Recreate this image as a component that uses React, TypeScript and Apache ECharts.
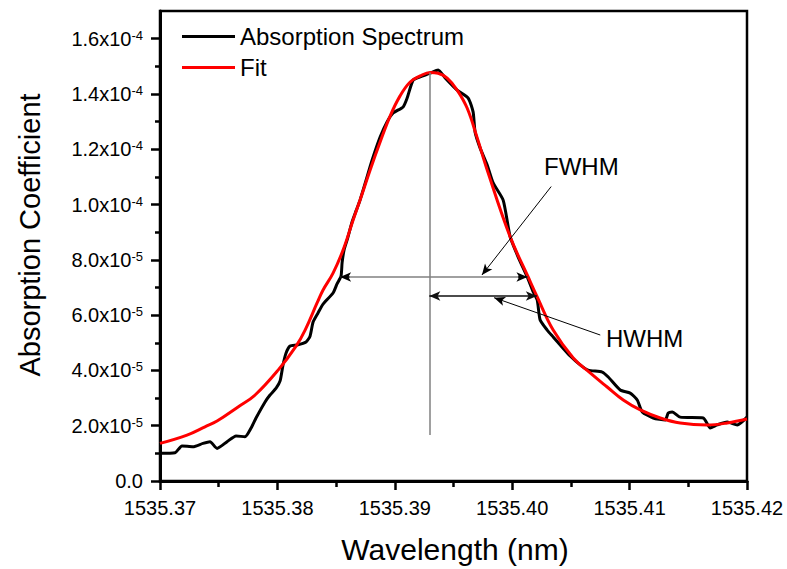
import React, { useEffect, useRef } from 'react';
import * as echarts from 'echarts';

const FONT = '"Liberation Sans", Arial, Helvetica, sans-serif';
const Y_SCALE = 1e-5;

// Absorption spectrum (wavelength in nm, value in units of 1e-5)
const spectrumWavelength = [
  1535.37, 1535.37128, 1535.37187, 1535.37281, 1535.37366, 1535.37426, 1535.37486, 1535.37571,
  1535.37648, 1535.37724, 1535.37776, 1535.37818, 1535.37895, 1535.37937, 1535.37989, 1535.38023,
  1535.38048, 1535.38074, 1535.38108, 1535.38168, 1535.38244, 1535.38278, 1535.38304, 1535.38346,
  1535.38389, 1535.38474, 1535.38508, 1535.38542, 1535.38551, 1535.38568, 1535.38594, 1535.38636,
  1535.3867, 1535.38704, 1535.38756, 1535.38807, 1535.38875, 1535.38934, 1535.38986, 1535.39071,
  1535.39105, 1535.39156, 1535.39216, 1535.39301, 1535.39369, 1535.39429, 1535.39531, 1535.39625,
  1535.39667, 1535.39684, 1535.39727, 1535.39787, 1535.39838, 1535.39923, 1535.39983, 1535.40051,
  1535.40128, 1535.40179, 1535.40213, 1535.40238, 1535.40298, 1535.40349, 1535.40409, 1535.40494,
  1535.40579, 1535.40647, 1535.40767, 1535.40818, 1535.4092, 1535.41005, 1535.41065, 1535.41108,
  1535.41201, 1535.41304, 1535.41329, 1535.41363, 1535.41431, 1535.41627, 1535.41687, 1535.41747,
  1535.41832, 1535.41917, 1535.42,
];
const spectrumValue = [
  1.0, 1.02, 1.27, 1.24, 1.36, 1.42, 1.18, 1.42, 1.63, 1.6, 1.92, 2.28, 2.86, 3.11, 3.36, 3.62,
  4.2, 4.63, 4.88, 4.92, 5.03, 5.24, 5.75, 6.08, 6.4, 6.8, 7.13, 7.41, 7.89, 8.36, 8.72, 9.37,
  9.77, 10.16, 10.89, 11.61, 12.44, 12.99, 13.31, 13.53, 13.85, 14.5, 14.62, 14.75, 14.87, 14.58,
  14.14, 13.85, 13.35, 12.62, 12.04, 11.43, 10.78, 10.16, 8.83, 8.1, 7.38, 6.84, 6.55, 5.82, 5.46,
  5.21, 4.92, 4.52, 4.2, 4.01, 3.94, 3.76, 3.29, 3.18, 2.93, 2.5, 2.28, 2.21, 2.46, 2.5, 2.31, 2.28,
  1.92, 2.03, 2.13, 2.03, 2.31,
];

// Fit curve
const fitWavelength = [
  1535.37, 1535.3723, 1535.37383, 1535.37486, 1535.37665, 1535.3781, 1535.38006, 1535.38159,
  1535.38236, 1535.38338, 1535.38389, 1535.38474, 1535.3856, 1535.38645, 1535.38704, 1535.3879,
  1535.38875, 1535.3896, 1535.39045, 1535.39131, 1535.39216, 1535.39301, 1535.39369, 1535.39446,
  1535.39531, 1535.39616, 1535.39702, 1535.39787, 1535.39983, 1535.40136, 1535.40213, 1535.40349,
  1535.4052, 1535.40664, 1535.40809, 1535.40946, 1535.41091, 1535.41261, 1535.41431, 1535.41662,
  1535.41832, 1535.42,
];
const fitValue = [
  1.36, 1.66, 1.96, 2.17, 2.68, 3.11, 4.01, 4.88, 5.46, 6.44, 6.91, 7.52, 8.36, 9.44, 10.16, 11.25,
  12.26, 13.2, 13.93, 14.43, 14.65, 14.78, 14.75, 14.57, 14.14, 13.49, 12.41, 11.25, 8.83, 7.38,
  6.66, 5.46, 4.45, 3.91, 3.4, 2.93, 2.57, 2.28, 2.1, 2.03, 2.1, 2.24,
];

// Axis ticks
const xTickValues = [1535.37, 1535.38, 1535.39, 1535.4, 1535.41, 1535.42];
const xTickLabels = ['1535.37', '1535.38', '1535.39', '1535.40', '1535.41', '1535.42'];
const xMinorTickValues = [1535.375, 1535.385, 1535.395, 1535.405, 1535.415];
const yTickValues = [0, 2, 4, 6, 8, 10, 12, 14, 16];
const yTickMantissa = ['0.0', '2.0', '4.0', '6.0', '8.0', '1.0', '1.2', '1.4', '1.6'];
const yTickExponent = ['', '-5', '-5', '-5', '-5', '-4', '-4', '-4', '-4'];
const yMinorTickValues = [1, 3, 5, 7, 9, 11, 13, 15];

// Annotations
const peakWavelength = 1535.393;
const peakLineRange = [14.78, 1.66];
const fwhmLevel = 7.38;
const fwhmEnds = [1535.38534, 1535.4013];
const hwhmLevel = 6.69;
const hwhmEnds = [1535.39294, 1535.4021];
const fwhmPointer = [[1535.40332, 10.65], [1535.39742, 7.45]];
const hwhmPointer = [[1535.4075, 5.28], [1535.39846, 6.63]];
const arrowStub = 0.0008;

function nearestIndex(arr: number[], v: number) {
  let best = 0;
  let bd = Infinity;
  arr.forEach((a, i) => {
    const d = Math.abs(a - v);
    if (d < bd) {
      bd = d;
      best = i;
    }
  });
  return best;
}

function seg(a: number[], b: number[], color: string, width: number, s0: string, s1: string) {
  const ls = { color, width, type: 'solid' as const };
  return [
    { coord: [a[0], a[1] * Y_SCALE], symbol: s0, lineStyle: ls },
    { coord: [b[0], b[1] * Y_SCALE], symbol: s1, lineStyle: ls },
  ];
}

export default function App() {
  const ref = useRef<HTMLDivElement>(null);

  useEffect(() => {
    if (!ref.current) return;
    const chart = echarts.init(ref.current, null, { renderer: 'svg' });

    const xMin = xTickValues[0];
    const xMax = xTickValues[xTickValues.length - 1];
    const yMax = 17 * Y_SCALE;

    const gray = '#808080';
    const annotationLines = [
      seg([peakWavelength, peakLineRange[0]], [peakWavelength, peakLineRange[1]], gray, 1.5, 'none', 'none'),
      seg([fwhmEnds[0], fwhmLevel], [fwhmEnds[1], fwhmLevel], gray, 1.5, 'none', 'none'),
      seg([fwhmEnds[0] + arrowStub, fwhmLevel], [fwhmEnds[0], fwhmLevel], '#000', 1.5, 'none', 'arrow'),
      seg([fwhmEnds[1] - arrowStub, fwhmLevel], [fwhmEnds[1], fwhmLevel], '#000', 1.5, 'none', 'arrow'),
      seg([hwhmEnds[0], hwhmLevel], [hwhmEnds[1], hwhmLevel], '#111', 1.5, 'arrow', 'arrow'),
      seg(fwhmPointer[0], fwhmPointer[1], '#000', 1, 'none', 'arrow'),
      seg(hwhmPointer[0], hwhmPointer[1], '#000', 1, 'none', 'arrow'),
    ];

    const yLabel = (value: number) => {
      const i = nearestIndex(yTickValues, value / Y_SCALE);
      const e = yTickExponent[i];
      return e ? `{m|${yTickMantissa[i]}x10}{e|${e}}` : `{m|${yTickMantissa[i]}}`;
    };

    chart.setOption({
      animation: false,
      grid: {
        left: 160,
        right: 40,
        top: 11,
        bottom: 88,
        show: true,
        borderColor: '#000',
        borderWidth: 2.5,
      },
      legend: {
        data: [
          { name: 'Absorption Spectrum', icon: 'rect' },
          { name: 'Fit', icon: 'rect' },
        ],
        orient: 'vertical',
        left: 177,
        top: 19,
        itemWidth: 53,
        itemHeight: 3,
        itemGap: 6,
        textStyle: { fontSize: 24, fontFamily: FONT, color: '#000', lineHeight: 25 },
        selectedMode: false,
      },
      xAxis: [
        {
          type: 'value',
          min: xMin,
          max: xMax,
          position: 'bottom',
          axisLine: { show: true, onZero: false, lineStyle: { color: '#000', width: 3 } },
          axisTick: {
            show: true,
            inside: false,
            length: 9,
            customValues: xTickValues,
            lineStyle: { color: '#000', width: 2.5 },
          },
          axisLabel: {
            show: true,
            margin: 17,
            customValues: xTickValues,
            fontSize: 20,
            fontFamily: FONT,
            color: '#000',
            formatter: (v: number) => xTickLabels[nearestIndex(xTickValues, v)],
          },
          splitLine: { show: false },
        },
        {
          type: 'value',
          min: xMin,
          max: xMax,
          position: 'bottom',
          axisLine: { show: false },
          axisTick: {
            show: true,
            inside: false,
            length: 6,
            customValues: xMinorTickValues,
            lineStyle: { color: '#000', width: 2.5 },
          },
          axisLabel: { show: false },
          splitLine: { show: false },
        },
      ],
      yAxis: [
        {
          type: 'value',
          min: 0,
          max: yMax,
          position: 'left',
          axisLine: { show: true, onZero: false, lineStyle: { color: '#000', width: 3 } },
          axisTick: {
            show: true,
            inside: false,
            length: 9,
            customValues: yTickValues.map((v) => v * Y_SCALE),
            lineStyle: { color: '#000', width: 2.5 },
          },
          axisLabel: {
            show: true,
            margin: 17,
            customValues: yTickValues.map((v) => v * Y_SCALE),
            formatter: yLabel,
            rich: {
              m: { fontSize: 20, fontFamily: FONT, color: '#000' },
              e: { fontSize: 13, fontFamily: FONT, color: '#000', verticalAlign: 'top' },
            },
          },
          splitLine: { show: false },
        },
        {
          type: 'value',
          min: 0,
          max: yMax,
          position: 'left',
          axisLine: { show: false },
          axisTick: {
            show: true,
            inside: false,
            length: 5,
            customValues: yMinorTickValues.map((v) => v * Y_SCALE),
            lineStyle: { color: '#000', width: 2.5 },
          },
          axisLabel: { show: false },
          splitLine: { show: false },
        },
      ],
      graphic: [
        {
          type: 'text',
          x: 30,
          y: 235,
          rotation: Math.PI / 2,
          style: {
            text: 'Absorption Coefficient',
            fontSize: 29,
            fontFamily: FONT,
            fill: '#000',
            align: 'center',
            verticalAlign: 'middle',
          },
        },
        {
          type: 'text',
          x: 455,
          y: 549,
          style: {
            text: 'Wavelength (nm)',
            fontSize: 30,
            fontFamily: FONT,
            fill: '#000',
            align: 'center',
            verticalAlign: 'middle',
          },
        },
        {
          type: 'text',
          left: 544,
          top: 154,
          style: { text: 'FWHM', fontSize: 24, fontFamily: FONT, fill: '#000' },
        },
        {
          type: 'text',
          left: 606,
          top: 326,
          style: { text: 'HWHM', fontSize: 24, fontFamily: FONT, fill: '#000' },
        },
      ],
      series: [
        {
          name: 'Absorption Spectrum',
          type: 'line',
          xAxisIndex: 0,
          yAxisIndex: 0,
          symbol: 'none',
          smooth: 0.2,
          lineStyle: { color: '#000', width: 3 },
          itemStyle: { color: '#000' },
          data: spectrumWavelength.map((x, i) => [x, spectrumValue[i] * Y_SCALE]),
          z: 3,
        },
        {
          name: 'Fit',
          type: 'line',
          xAxisIndex: 0,
          yAxisIndex: 0,
          symbol: 'none',
          smooth: 0.4,
          lineStyle: { color: '#ff0000', width: 3 },
          itemStyle: { color: '#ff0000' },
          data: fitWavelength.map((x, i) => [x, fitValue[i] * Y_SCALE]),
          z: 4,
        },
        {
          name: 'annotations',
          type: 'line',
          xAxisIndex: 0,
          yAxisIndex: 0,
          data: [],
          silent: true,
          z: 2,
          markLine: {
            silent: true,
            animation: false,
            symbol: ['none', 'none'],
            symbolSize: [7, 11],
            label: { show: false },
            emphasis: { disabled: true },
            lineStyle: { type: 'solid' },
            data: annotationLines,
          },
        },
      ],
    });

    return () => chart.dispose();
  }, []);

  return (
    <div
      ref={ref}
      style={{ position: 'fixed', left: 0, top: 0, width: 787, height: 569, background: '#fff' }}
    />
  );
}
